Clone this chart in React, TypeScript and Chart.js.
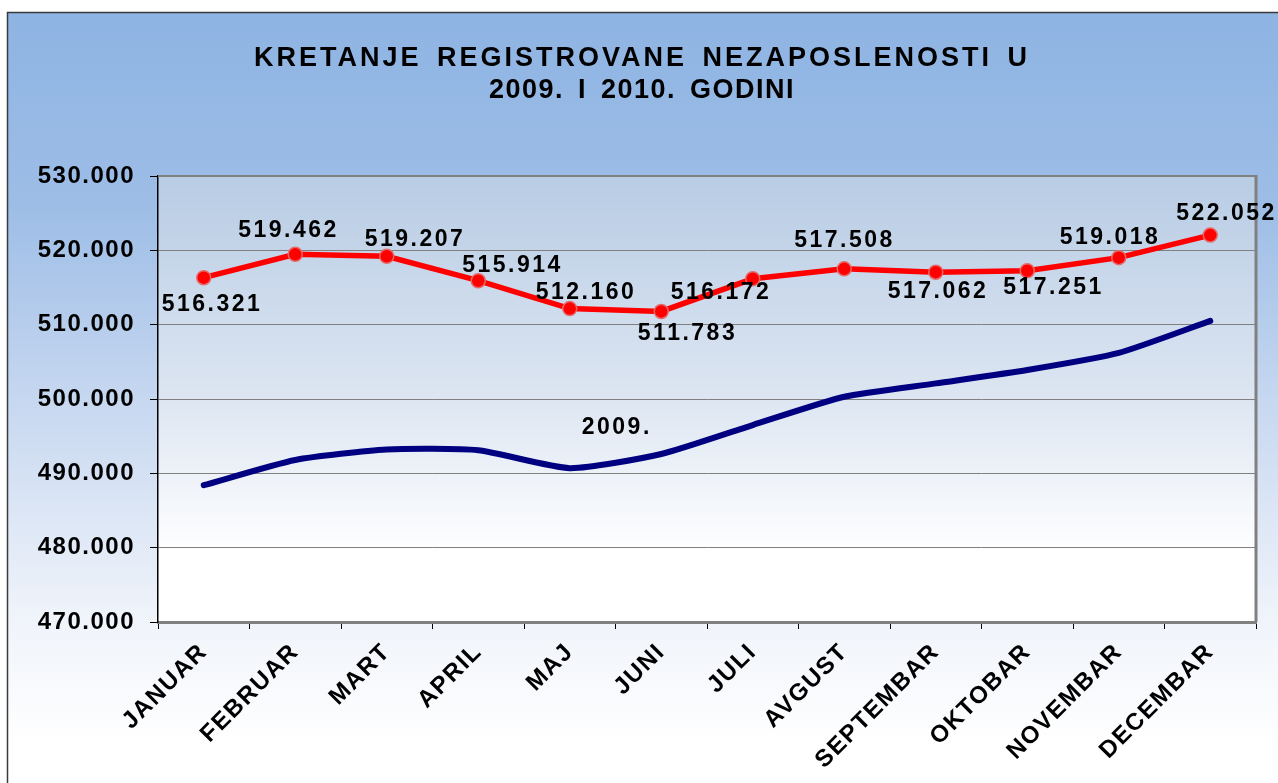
import React, { useEffect, useRef } from 'react';
import { Chart, registerables } from 'chart.js';

Chart.register(...registerables);

const TITLE_LINES = ['KRETANJE REGISTROVANE NEZAPOSLENOSTI U', '2009. I 2010. GODINI'];
const MONTHS = ['JANUAR', 'FEBRUAR', 'MART', 'APRIL', 'MAJ', 'JUNI', 'JULI', 'AVGUST', 'SEPTEMBAR', 'OKTOBAR', 'NOVEMBAR', 'DECEMBAR'];
const VALUES_2009 = [488400, 491800, 493200, 493100, 490700, 492600, 496500, 500300, 502100, 503900, 506200, 510500];
const VALUES_2010 = [516321, 519462, 519207, 515914, 512160, 511783, 516172, 517508, 517062, 517251, 519018, 522052];
const Y_MIN = 470000;
const Y_MAX = 530000;
const Y_STEP = 10000;
const LABEL_2009 = '2009.';
const LABEL_2010 = '2010.';
// anchor of the "2009." series label in data coordinates (category index, value)
const LABEL_2009_ANCHOR = { index: 4.5, value: 496100 };
// pixel offsets of the 2010 value labels from their points
const VALUE_LABEL_OFFSETS = [
  [7, 27], [-8, -24], [27, -17], [33, -15], [15, -16], [25, 22],
  [-33, 14], [-1, -28], [1, 19], [25, 17], [-10, -20], [15, -21],
];
const TITLE_SPACING = ['3px', '1.5px'];

const FONT = '"Liberation Sans", Arial, sans-serif';
const fmt = (v: number) => Math.round(v).toString().replace(/\B(?=(\d{3})+(?!\d))/g, '.');

const decorPlugin = {
  id: 'decor',
  beforeUpdate(chart: any) {
    chart.ctx.letterSpacing = '1.5px';
  },
  beforeDraw(chart: any) {
    const { ctx, width, height, chartArea } = chart;
    ctx.save();
    ctx.fillStyle = '#ffffff';
    ctx.fillRect(0, 0, width, height);
    const g = ctx.createLinearGradient(0, 12, 0, height);
    g.addColorStop(0, '#8EB4E3');
    g.addColorStop(0.25, '#9DBDE6');
    g.addColorStop(0.5, '#C6D7F0');
    g.addColorStop(0.78, '#EFF3FA');
    g.addColorStop(0.95, '#FFFFFF');
    ctx.fillStyle = g;
    ctx.fillRect(7, 12, width - 7, height - 12);
    ctx.strokeStyle = '#3a3a3a';
    ctx.lineWidth = 1.5;
    ctx.beginPath();
    ctx.moveTo(7.5, height);
    ctx.lineTo(7.5, 12.5);
    ctx.lineTo(width, 12.5);
    ctx.stroke();

    const pg = ctx.createLinearGradient(0, chartArea.top, 0, chartArea.bottom);
    pg.addColorStop(0, '#B8CCE4');
    pg.addColorStop(0.5, '#DDE6F2');
    pg.addColorStop(0.85, '#FFFFFF');
    ctx.fillStyle = pg;
    ctx.fillRect(chartArea.left, chartArea.top, chartArea.right - chartArea.left, chartArea.bottom - chartArea.top);

    ctx.fillStyle = '#000000';
    ctx.font = `bold 27px ${FONT}`;
    ctx.textAlign = 'center';
    ctx.textBaseline = 'middle';
    (ctx as any).wordSpacing = '5px';
    TITLE_LINES.forEach((t, i) => {
      ctx.letterSpacing = TITLE_SPACING[i];
      ctx.fillText(t, width / 2 + 3, 59 + i * 32);
    });
    ctx.restore();
    ctx.letterSpacing = '1.5px';
  },
  beforeDatasetsDraw(chart: any) {
    const { ctx, chartArea } = chart;
    ctx.save();
    ctx.strokeStyle = '#808080';
    ctx.lineWidth = 2;
    ctx.beginPath();
    ctx.moveTo(chartArea.left, chartArea.top);
    ctx.lineTo(chartArea.right, chartArea.top);
    ctx.stroke();
    ctx.lineWidth = 3;
    ctx.beginPath();
    ctx.moveTo(chartArea.right, chartArea.top - 1);
    ctx.lineTo(chartArea.right, chartArea.bottom);
    ctx.stroke();
    ctx.restore();
  },
  afterDatasetsDraw(chart: any) {
    const { ctx } = chart;
    const meta = chart.getDatasetMeta(1);
    ctx.save();
    ctx.fillStyle = '#000000';
    ctx.font = `bold 23px ${FONT}`;
    ctx.textAlign = 'center';
    ctx.textBaseline = 'middle';
    ctx.letterSpacing = '2.5px';
    meta.data.forEach((pt: any, i: number) => {
      const [dx, dy] = VALUE_LABEL_OFFSETS[i];
      ctx.fillText(fmt(VALUES_2010[i]), pt.x + dx + 1.25, pt.y + dy);
    });
    const xs = chart.scales.x;
    const ys = chart.scales.y;
    const i0 = Math.floor(LABEL_2009_ANCHOR.index);
    const frac = LABEL_2009_ANCHOR.index - i0;
    const x = xs.getPixelForValue(i0) * (1 - frac) + xs.getPixelForValue(i0 + 1) * frac;
    ctx.fillText(LABEL_2009, x + 1.25, ys.getPixelForValue(LABEL_2009_ANCHOR.value));
    ctx.restore();
  },
};

export default function App() {
  const ref = useRef<HTMLCanvasElement | null>(null);
  useEffect(() => {
    if (!ref.current) return;
    const chart = new Chart(ref.current, {
      type: 'line',
      data: {
        labels: MONTHS,
        datasets: [
          {
            label: LABEL_2009,
            data: VALUES_2009,
            borderColor: '#000080',
            borderWidth: 6,
            tension: 0.2,
            pointRadius: 0,
            fill: false,
            borderCapStyle: 'round',
          },
          {
            label: LABEL_2010,
            data: VALUES_2010,
            borderColor: '#FF0000',
            borderWidth: 5.5,
            tension: 0,
            pointRadius: 7,
            pointBackgroundColor: '#FF0000',
            pointBorderColor: '#E56A6A',
            pointBorderWidth: 1.5,
            fill: false,
            clip: false,
          },
        ],
      },
      options: {
        animation: false,
        responsive: false,
        devicePixelRatio: 1,
        layout: { padding: { top: 176, right: 22, bottom: 0, left: 0 } },
        plugins: {
          legend: { display: false },
          title: { display: false },
          tooltip: { enabled: false },
        },
        scales: {
          x: {
            type: 'category',
            offset: true,
            grid: {
              offset: true,
              drawOnChartArea: false,
              color: '#000000',
              tickLength: 7,
              lineWidth: 1,
            },
            border: { display: true, color: '#808080', width: 3 },
            ticks: {
              autoSkip: false,
              maxRotation: 45,
              minRotation: 45,
              padding: 9,
              color: '#000000',
              font: { family: FONT, size: 24, weight: 'bold' },
            },
            afterFit(scale: any) {
              scale.height = 161;
            },
          },
          y: {
            min: Y_MIN,
            max: Y_MAX,
            grid: {
              color: '#808080',
              lineWidth: 1,
              tickColor: '#000000',
              tickLength: 8,
            },
            border: { display: true, color: '#000000', width: 1.5 },
            ticks: {
              stepSize: Y_STEP,
              padding: 15,
              color: '#000000',
              font: { family: FONT, size: 24, weight: 'bold' },
              callback: (v: any) => fmt(Number(v)),
            },
            afterFit(scale: any) {
              scale.width = 158;
            },
          },
        },
      },
      plugins: [decorPlugin],
    });
    return () => chart.destroy();
  }, []);
  return (
    <div style={{ position: 'absolute', left: 0, top: 0, width: 1278, height: 783 }}>
      <canvas ref={ref} width={1278} height={783} style={{ display: 'block' }} />
    </div>
  );
}
